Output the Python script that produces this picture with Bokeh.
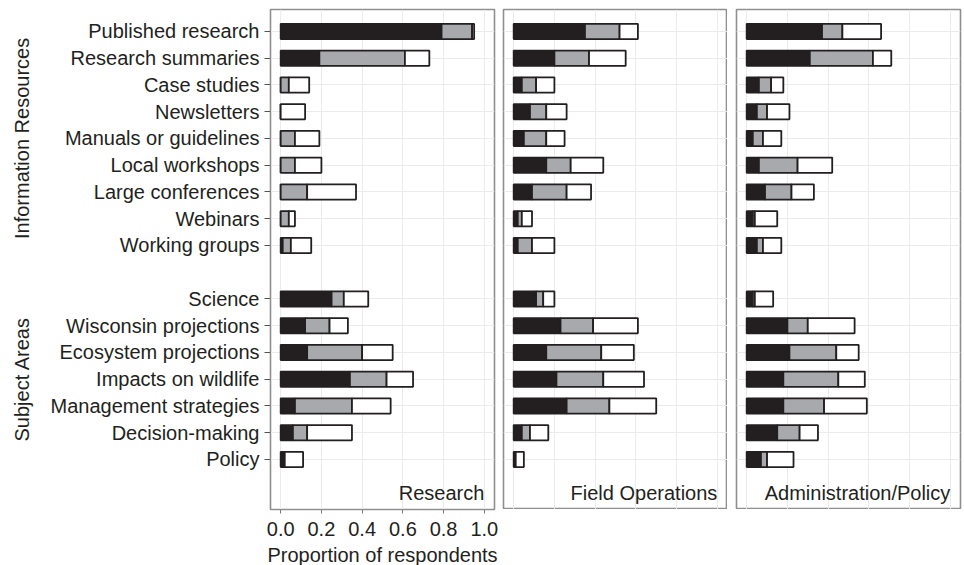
from bokeh.plotting import figure
from bokeh.layouts import row
from bokeh.models import ColumnDataSource, Range1d, FixedTicker, LinearAxis, Label
from bokeh.embed import file_html
from bokeh.resources import INLINE

# ---------------- data ----------------
info_resources = ["Published research", "Research summaries", "Case studies", "Newsletters",
                  "Manuals or guidelines", "Local workshops", "Large conferences", "Webinars",
                  "Working groups"]
subject_areas = ["Science", "Wisconsin projections", "Ecosystem projections", "Impacts on wildlife",
                 "Management strategies", "Decision-making", "Policy"]
group_names = ["Information Resources", "Subject Areas"]
panel_names = ["Research", "Field Operations", "Administration/Policy"]
x_ticks = [0.0, 0.2, 0.4, 0.6, 0.8, 1.0]
x_tick_labels = ["0.0", "0.2", "0.4", "0.6", "0.8", "1.0"]
x_title = "Proportion of respondents"

# segment proportions (dark, mid-gray, white), information resources then subject areas
research_dark = [0.79, 0.19, 0.00, 0.00, 0.00, 0.00, 0.00, 0.00, 0.01,
                 0.25, 0.12, 0.13, 0.34, 0.07, 0.06, 0.02]
research_mid = [0.15, 0.42, 0.04, 0.00, 0.07, 0.07, 0.13, 0.04, 0.04,
                0.06, 0.12, 0.27, 0.18, 0.28, 0.07, 0.00]
research_light = [0.01, 0.12, 0.10, 0.12, 0.12, 0.13, 0.24, 0.03, 0.10,
                  0.12, 0.09, 0.15, 0.13, 0.19, 0.22, 0.09]

field_dark = [0.35, 0.20, 0.04, 0.08, 0.05, 0.16, 0.09, 0.02, 0.02,
              0.11, 0.23, 0.16, 0.21, 0.26, 0.04, 0.01]
field_mid = [0.17, 0.17, 0.07, 0.08, 0.11, 0.12, 0.17, 0.02, 0.07,
             0.035, 0.16, 0.27, 0.23, 0.21, 0.04, 0.00]
field_light = [0.09, 0.18, 0.09, 0.10, 0.09, 0.16, 0.12, 0.05, 0.11,
               0.055, 0.22, 0.16, 0.20, 0.23, 0.09, 0.04]

admin_dark = [0.37, 0.31, 0.06, 0.05, 0.03, 0.06, 0.09, 0.03, 0.05,
              0.03, 0.20, 0.21, 0.18, 0.18, 0.15, 0.07]
admin_mid = [0.10, 0.31, 0.06, 0.05, 0.05, 0.19, 0.13, 0.01, 0.03,
             0.01, 0.10, 0.23, 0.27, 0.20, 0.11, 0.03]
admin_light = [0.19, 0.09, 0.06, 0.11, 0.09, 0.17, 0.11, 0.11, 0.09,
               0.09, 0.23, 0.11, 0.13, 0.21, 0.09, 0.13]

panel_data = [
    (research_dark, research_mid, research_light),
    (field_dark, field_mid, field_light),
    (admin_dark, admin_mid, admin_light),
]

# ---------------- style ----------------
FONT = "Liberation Sans"
FS = "20px"
TXT = "#231f20"
FILLS = ["#231f20", "#a7a9ac", "#ffffff"]
FRAME_W = 224
FRAME_H = 500

categories = info_resources + subject_areas
ypos = list(range(len(info_resources))) + [len(info_resources) + 1 + i for i in range(len(subject_areas))]
group_pos = [(ypos[0] + ypos[len(info_resources) - 1]) / 2,
             (ypos[len(info_resources)] + ypos[-1]) / 2]

borders_left = [270, 4, 9]
borders_right = [5, 0, 2]

figs = []
for k, (name, (d, m, l)) in enumerate(zip(panel_names, panel_data)):
    first = k == 0
    p = figure(frame_width=FRAME_W, frame_height=FRAME_H,
               x_range=Range1d(-0.05, 1.05),
               y_range=Range1d(ypos[-1] + 1.87, -0.82),
               output_backend="svg", toolbar_location=None,
               x_axis_location="below" if first else None,
               y_axis_location="left" if first else None,
               min_border_left=borders_left[k],
               min_border_right=borders_right[k],
               min_border_top=9, min_border_bottom=0)
    p.background_fill_color = "white"
    p.border_fill_color = "white"
    p.outline_line_color = "#8f8f8f"
    p.outline_line_width = 1.6

    p.xgrid.ticker = FixedTicker(ticks=x_ticks)
    p.ygrid.ticker = FixedTicker(ticks=ypos)
    for g in (p.xgrid, p.ygrid):
        g.grid_line_color = "#ebebeb"
        g.grid_line_width = 1

    src = ColumnDataSource(dict(y=ypos, dark=d, mid=m, light=l))
    p.hbar_stack(["dark", "mid", "light"], y="y", height=0.57, source=src,
                 fill_color=FILLS, line_color="#231f20", line_width=1.8)

    p.add_layout(Label(x=1.0, y=ypos[-1] + 1.25, text=name, text_align="right",
                       text_baseline="middle", text_font=FONT, text_font_size=FS,
                       text_color=TXT))

    if first:
        ax = p.yaxis[0]
        ax.ticker = FixedTicker(ticks=ypos)
        ax.major_label_overrides = {y: c for y, c in zip(ypos, categories)}
        ax.axis_line_color = None
        ax.major_tick_line_color = "#555555"
        ax.major_tick_out = 6
        ax.major_tick_in = 0
        ax.minor_tick_line_color = None
        ax.major_label_standoff = 5
        ax.major_label_text_font = FONT
        ax.major_label_text_font_size = FS
        ax.major_label_text_color = TXT

        ga = LinearAxis(ticker=FixedTicker(ticks=group_pos),
                        major_label_overrides={gp: gn for gp, gn in zip(group_pos, group_names)},
                        major_label_orientation="vertical",
                        axis_line_color=None, major_tick_line_color=None,
                        minor_tick_line_color=None, major_label_standoff=8,
                        major_label_text_font=FONT, major_label_text_font_size=FS,
                        major_label_text_color=TXT)
        p.add_layout(ga, "left")

        xa = p.xaxis[0]
        xa.ticker = FixedTicker(ticks=x_ticks)
        xa.major_label_overrides = {t: s for t, s in zip(x_ticks, x_tick_labels)}
        xa.axis_line_color = None
        xa.major_tick_line_color = "#777777"
        xa.major_tick_out = 4
        xa.major_tick_in = 0
        xa.minor_tick_line_color = None
        xa.major_label_standoff = 8
        xa.major_label_text_font = FONT
        xa.major_label_text_font_size = FS
        xa.major_label_text_color = TXT
        xa.axis_label = x_title
        xa.axis_label_standoff = 5
        xa.axis_label_text_font = FONT
        xa.axis_label_text_font_size = FS
        xa.axis_label_text_font_style = "normal"
        xa.axis_label_text_color = TXT
    figs.append(p)

layout = row(*figs)
open("out.html", "w").write(file_html(layout, INLINE))
